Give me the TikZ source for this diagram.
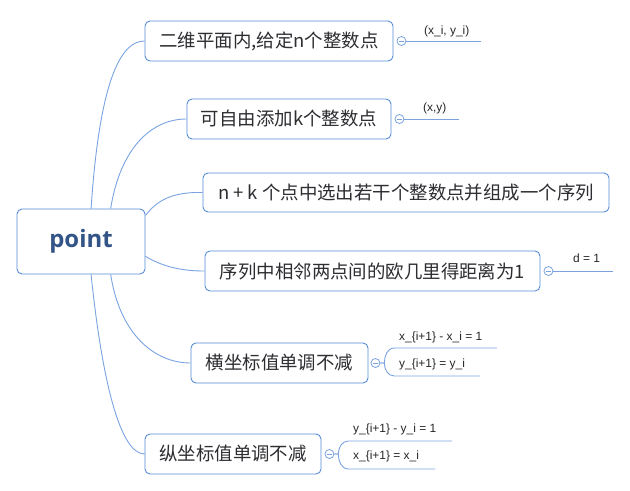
\documentclass[tikz,border=0pt]{standalone}
\usepackage{fontspec}
\setmainfont{Open Sans}
\newfontfamily\cjk{Noto Sans CJK SC}
\newfontfamily\leaffont{Liberation Sans}
\usepackage{tikz}
\usetikzlibrary{calc}

\definecolor{framecol}{RGB}{86,140,214}
\definecolor{linecol}{RGB}{122,163,224}
\definecolor{textcol}{RGB}{45,45,50}
\definecolor{rootcol}{RGB}{50,84,134}

\tikzset{
	topic/.style={draw=framecol, line width=0.9bp, rounded corners=5bp, fill=white,
		text=textcol, inner sep=0pt, minimum height=40bp,
		font=\cjk\fontsize{18.5}{18.5}\selectfont},
	branch/.style={draw=linecol, line width=0.9bp},
	knob/.style={circle, draw=linecol, line width=0.8bp, fill=white, minimum size=9bp, inner sep=0pt,
		path picture={\draw[linecol, line width=0.8bp]
			([xshift=-2.5bp]path picture bounding box.center) -- ([xshift=2.5bp]path picture bounding box.center);}},
	leaf/.style={anchor=base west, inner sep=0pt, text=black!85,
		font=\leaffont\fontsize{12}{12}\selectfont}
}

\begin{document}
\begin{tikzpicture}
	\useasboundingbox (0bp,0bp) rectangle (630bp,-491bp);

	% root and topics
	\node (root) at (81bp,-241.5bp) [topic, minimum width=128bp, minimum height=65bp,
		text=rootcol, font=\fontsize{24}{24}\selectfont\bfseries] {point};
	\node (b1) at (269bp,-41bp)    [topic, minimum width=248bp] {二维平面内,给定n个整数点};
	\node (b2) at (289bp,-119bp)   [topic, minimum width=204bp] {可自由添加k个整数点};
	\node (b3) at (406bp,-192.5bp) [topic, minimum width=406bp, minimum height=39bp] {n + k 个点中选出若干个整数点并组成一个序列};
	\node (b4) at (372.5bp,-271bp) [topic, minimum width=335bp] {序列中相邻两点间的欧几里得距离为1};
	\node (b5) at (279.5bp,-363bp) [topic, minimum width=177bp] {横坐标值单调不减};
	\node (b6) at (233bp,-454bp)   [topic, minimum width=176bp] {纵坐标值单调不减};

	\draw [branch] (root.73)  .. controls (99bp,-90bp)   and (118bp,-41bp)  .. (b1.west);
	\draw [branch] (root.48)  .. controls (120bp,-150bp) and (150bp,-119bp) .. (b2.west);
	\draw [branch] (root.22)  .. controls (160bp,-196bp) and (180bp,-192bp) .. (b3.west);
	\draw [branch] (root.-13) .. controls (165bp,-268bp) and (185bp,-271bp) .. (b4.west);
	\draw [branch] (root.-48) .. controls (120bp,-335bp) and (155bp,-363bp) .. (b5.west);
	\draw [branch] (root.-73) .. controls (102bp,-380bp) and (120bp,-454bp) .. (b6.west);

	% collapse knobs
	\node (k1) at ([xshift=8bp]b1.east) [knob] {};
	\node (k2) at ([xshift=8bp]b2.east) [knob] {};
	\node (k4) at ([xshift=8bp]b4.east) [knob] {};
	\node (k5) at ([xshift=7bp]b5.east) [knob] {};
	\node (k6) at ([xshift=8bp]b6.east) [knob] {};

	% leaves
	\coordinate (e1)  at (481bp,-41bp);
	\coordinate (e2)  at (459bp,-119bp);
	\coordinate (e4)  at (613bp,-271bp);
	\coordinate (e5a) at (497bp,-348bp);
	\coordinate (e5b) at (480bp,-376bp);
	\coordinate (e6a) at (452bp,-441bp);
	\coordinate (e6b) at (435bp,-469bp);

	\draw [branch] (k1) -- (e1);
	\draw [branch] (k2) -- (e2);
	\draw [branch] (k4) -- (e4);
	\draw [branch] (k5.east) -- ++(4bp,0) to[out=90,in=180]  ++(10bp,15bp)  -- (e5a);
	\draw [branch] (k5.east) -- ++(4bp,0) to[out=-90,in=180] ++(10bp,-13bp) -- (e5b);
	\draw [branch] (k6.east) -- ++(4bp,0) to[out=90,in=180]  ++(10bp,13bp)  -- (e6a);
	\draw [branch] (k6.east) -- ++(4bp,0) to[out=-90,in=180] ++(10bp,-15bp) -- (e6b);

	\node (l1)  at (424bp,-34bp)  [leaf] {(x\_i, y\_i)};
	\node (l2)  at (423bp,-111bp) [leaf] {(x,y)};
	\node (l4)  at (573bp,-262bp) [leaf] {d = 1};
	\node (l5a) at (399bp,-340bp) [leaf] {x\_\{i+1\} - x\_i = 1};
	\node (l5b) at (399bp,-367bp) [leaf] {y\_\{i+1\} = y\_i};
	\node (l6a) at (353bp,-432bp) [leaf] {y\_\{i+1\} - y\_i = 1};
	\node (l6b) at (353bp,-459bp) [leaf] {x\_\{i+1\} = x\_i};
\end{tikzpicture}
\end{document}
